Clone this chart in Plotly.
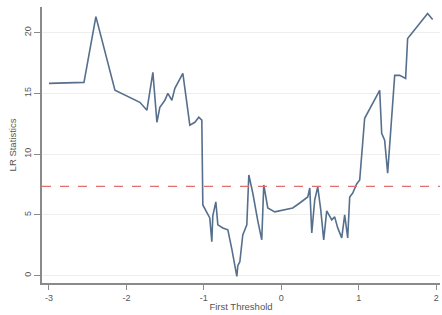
import plotly.graph_objects as go

# First-threshold candidates and LR statistics
threshold = [-3.00, -2.548, -2.394, -2.148, -1.826, -1.735, -1.658, -1.606, -1.568, -1.503,
             -1.465, -1.413, -1.374, -1.271, -1.181, -1.116, -1.065, -1.026, -1.013, -0.961,
             -0.923, -0.897, -0.884, -0.845, -0.819, -0.755, -0.690, -0.639, -0.613, -0.600,
             -0.574, -0.561, -0.535, -0.497, -0.445, -0.419, -0.368, -0.303, -0.252, -0.226,
             -0.174, -0.084, 0.019, 0.148, 0.239, 0.342, 0.368, 0.394, 0.432, 0.471,
             0.510, 0.548, 0.587, 0.652, 0.690, 0.729, 0.781, 0.819, 0.858, 0.884,
             0.923, 0.974, 1.013, 1.077, 1.271, 1.297, 1.335, 1.374, 1.465, 1.529,
             1.606, 1.632, 1.890, 1.955]
lr_stat = [15.82, 15.90, 21.31, 15.25, 14.26, 13.61, 16.72, 12.62, 13.85, 14.43,
           15.00, 14.43, 15.41, 16.64, 12.38, 12.62, 13.03, 12.79, 5.82, 5.16,
           4.75, 2.79, 4.92, 6.07, 4.18, 3.93, 3.77, 2.21, 1.15, 0.82,
           -0.05, 0.82, 1.15, 3.36, 4.18, 8.28, 6.80, 4.51, 2.95, 7.46,
           5.57, 5.25, 5.41, 5.57, 5.98, 6.48, 7.21, 3.52, 6.23, 7.30,
           5.41, 2.95, 5.33, 4.59, 4.84, 3.93, 3.11, 5.00, 3.11, 6.48,
           6.80, 7.54, 7.87, 12.95, 15.25, 11.72, 11.15, 8.44, 16.48, 16.48,
           16.23, 19.51, 21.56, 21.07]
critical_value = 7.35

x_ticks = [-3, -2, -1, 0, 1, 2]
y_ticks = [0, 5, 10, 15, 20]

axis_color = "#8a8a8a"
font_family = "Liberation Sans, Arial, sans-serif"

fig = go.Figure()
fig.add_trace(go.Scatter(
    x=threshold, y=lr_stat, mode="lines",
    line=dict(color="#566f8c", width=1.6),
    showlegend=False, hoverinfo="skip"))
fig.add_trace(go.Scatter(
    x=[-3.09, 2.05], y=[critical_value, critical_value], mode="lines",
    line=dict(color="#e07070", width=1.3, dash="dash"),
    showlegend=False, hoverinfo="skip"))

fig.update_layout(
    width=442, height=315,
    margin=dict(l=42, r=2, t=7, b=32),
    paper_bgcolor="white", plot_bgcolor="white",
    font=dict(family=font_family, size=9, color="#555555"),
    xaxis=dict(
        range=[-3.09, 2.05], tickvals=x_ticks, ticktext=[str(v) for v in x_ticks],
        showline=True, linecolor=axis_color, linewidth=1.5,
        ticks="outside", ticklen=5, tickcolor=axis_color, tickwidth=1.2,
        showgrid=False, zeroline=False,
        title=dict(text="First Threshold", font=dict(size=9.5), standoff=2),
        tickfont=dict(size=9),
    ),
    yaxis=dict(
        range=[-0.6, 22.1], tickvals=y_ticks, ticktext=[str(v) for v in y_ticks],
        showline=True, linecolor=axis_color, linewidth=1.5,
        ticks="outside", ticklen=6, tickcolor=axis_color, tickwidth=1.2,
        showgrid=True, gridcolor="#eeeeee", gridwidth=1, zeroline=False,
        tickangle=-90,
        title=dict(text="LR Statistics", font=dict(size=9.5), standoff=4),
        tickfont=dict(size=9),
    ),
)

fig.write_html("out.html", config={"displayModeBar": False},
               post_script="document.body.style.margin='0px';")
